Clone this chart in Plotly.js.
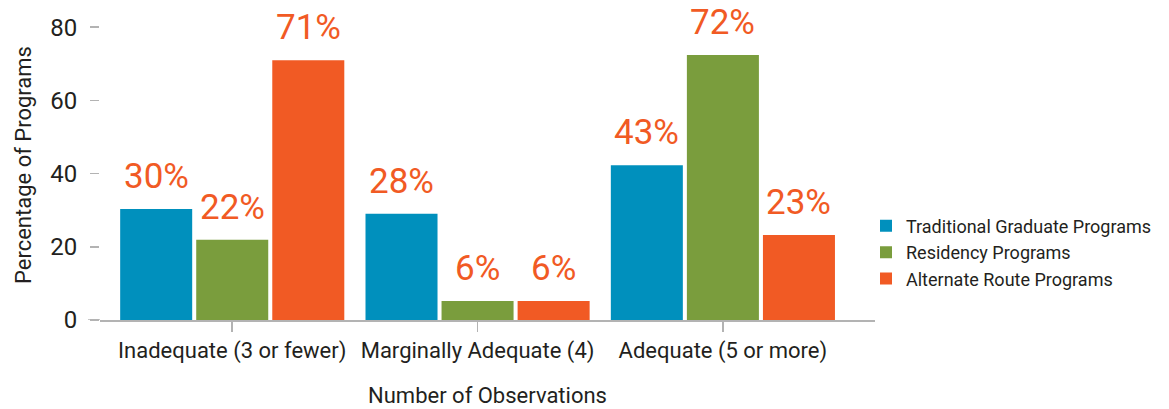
<!DOCTYPE html>
<html>
<head>
<meta charset="utf-8">
<script src="https://cdn.plot.ly/plotly-3.0.1.min.js"></script>
<style>html,body{margin:0;padding:0;background:#fff;}#chart{width:1169px;height:409px;}</style>
</head>
<body>
<div id="chart"></div>
<script>
var categories = ['Inadequate (3 or fewer)', 'Marginally Adequate (4)', 'Adequate (5 or more)'];
var seriesNames = ['Traditional Graduate Programs', 'Residency Programs', 'Alternate Route Programs'];
var traditional = [30.3, 29.0, 42.3];
var residency = [21.9, 5.2, 72.4];
var alternate = [71.0, 5.2, 23.2];
var traditionalLabels = ['30%', '28%', '43%'];
var residencyLabels = ['22%', '6%', '72%'];
var alternateLabels = ['71%', '6%', '23%'];
var yTicks = [0, 20, 40, 60, 80];

var FONT = 'Roboto, "Liberation Sans", sans-serif';
var colors = ['rgb(0,144,189)', 'rgb(122,157,61)', 'rgb(241,90,36)'];
var seriesValues = [traditional, residency, alternate];
var seriesLabels = [traditionalLabels, residencyLabels, alternateLabels];
var shifts = [-76, 0, 76];

var data = seriesValues.map(function (vals, i) {
  return {
    type: 'bar', x: categories, y: vals, name: seriesNames[i],
    marker: {color: colors[i]}, hoverinfo: 'none'
  };
});

var annotations = [];
seriesValues.forEach(function (vals, i) {
  vals.forEach(function (v, j) {
    annotations.push({
      x: categories[j], y: v, xref: 'x', yref: 'y', text: seriesLabels[i][j],
      showarrow: false, yanchor: 'bottom', xanchor: 'center',
      xshift: shifts[i], yshift: 10,
      font: {family: FONT, size: 35, color: 'rgb(241,90,36)'}
    });
  });
});

var layout = {
  width: 1169, height: 409,
  margin: {l: 100, r: 200, t: 10, b: 89},
  paper_bgcolor: '#fff', plot_bgcolor: '#fff',
  barmode: 'group', bargap: 0.07, bargroupgap: 0.053,
  font: {family: FONT, color: '#231f20', size: 22},
  xaxis: {
    domain: [0, 775 / 869],
    range: [-0.539, 2.62], showgrid: false, zeroline: false,
    showline: true, linecolor: '#b3b3b3', linewidth: 1.5,
    ticks: 'outside', ticklen: 10, tickcolor: '#b3b3b3', tickwidth: 1.5,
    tickangle: 0, automargin: false,
    tickfont: {family: FONT, size: 22, color: '#231f20'},
    title: {text: 'Number of Observations', font: {family: FONT, size: 22, color: '#231f20'}, standoff: 24}
  },
  yaxis: {
    range: [0, 84.7], tickvals: yTicks, showgrid: false, zeroline: false, showline: false,
    ticks: 'outside', ticklen: 9, tickcolor: '#b3b3b3', tickwidth: 1.5,
    ticklabelstandoff: 8, automargin: false,
    tickfont: {family: FONT, size: 24, color: '#231f20'},
    title: {text: 'Percentage of Programs', font: {family: FONT, size: 22, color: '#231f20'}, standoff: 12}
  },
  legend: {
    xref: 'paper', yref: 'paper',
    x: 766 / 869, xanchor: 'left', y: 0.3626, yanchor: 'top',
    font: {family: FONT, size: 18, color: '#231f20'},
    bgcolor: 'rgba(0,0,0,0)', tracegroupgap: 0
  },
  shapes: [{
    type: 'line', xref: 'paper', yref: 'y', x0: -12 / 869, x1: 0, y0: 0, y1: 0,
    line: {color: '#b3b3b3', width: 1.5}
  }],
  annotations: annotations
};

Plotly.newPlot('chart', data, layout, {displayModeBar: false, staticPlot: true});
</script>
</body>
</html>
